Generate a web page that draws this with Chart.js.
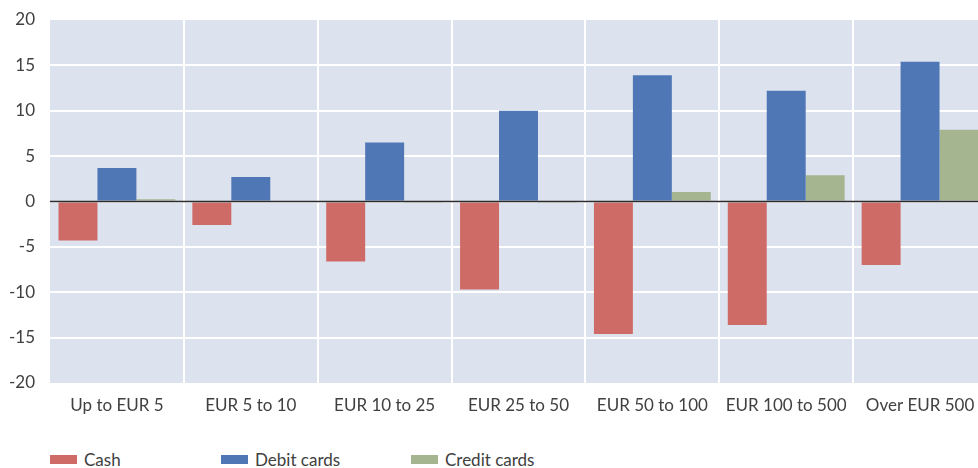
<!DOCTYPE html>
<html>
<head>
<meta charset="utf-8">
<script src="https://cdn.jsdelivr.net/npm/chart.js@4"></script>
<style>
  html, body { margin: 0; padding: 0; background: #fff; overflow: hidden; width: 978px; height: 468px; }
  #wrap { position: absolute; left: 0; top: 0; width: 990px; height: 440px; }
  #legend { position: absolute; left: 50px; top: 449px; display: flex; font-family: Lato, "Open Sans", sans-serif; font-size: 17px; color: #404040; }
  .item { display: flex; align-items: center; }
  .box { width: 27px; height: 9px; margin-right: 7px; }
</style>
</head>
<body>
<div id="wrap"><canvas id="c" width="990" height="440"></canvas></div>
<div id="legend"></div>
<script>
const categories = ["Up to EUR 5", "EUR 5 to 10", "EUR 10 to 25", "EUR 25 to 50", "EUR 50 to 100", "EUR 100 to 500", "Over EUR 500"];
const cash = [-4.3, -2.6, -6.6, -9.7, -14.6, -13.6, -7.0];
const debitCards = [3.7, 2.7, 6.5, 10.0, 13.9, 12.2, 15.4];
const creditCards = [0.25, 0.0, -0.15, -0.15, 1.05, 2.9, 7.9];
const yTicks = [20, 15, 10, 5, 0, -5, -10, -15, -20];
const seriesNames = ["Cash", "Debit cards", "Credit cards"];
const colors = ["#cf6b66", "#5077b5", "#a5b590"];
const legendWidths = [171, 190, 200];

const plotBg = {
  id: 'plotBg',
  beforeDraw(chart) {
    const a = chart.chartArea, ctx = chart.ctx;
    ctx.save();
    ctx.fillStyle = '#dde2ef';
    ctx.fillRect(a.left, a.top, a.right - a.left, a.bottom - a.top);
    ctx.restore();
  }
};
const zeroLine = {
  id: 'zeroLine',
  afterDatasetsDraw(chart) {
    const a = chart.chartArea, ctx = chart.ctx;
    const y = chart.scales.y.getPixelForValue(0);
    ctx.save();
    ctx.strokeStyle = '#2b2b2b';
    ctx.lineWidth = 1.5;
    ctx.beginPath();
    ctx.moveTo(a.left, y);
    ctx.lineTo(a.right, y);
    ctx.stroke();
    ctx.restore();
  }
};

const font = { family: 'Lato, "Open Sans", sans-serif', size: 17 };
new Chart(document.getElementById('c'), {
  type: 'bar',
  data: {
    labels: categories,
    datasets: [cash, debitCards, creditCards].map((d, i) => ({
      label: seriesNames[i], data: d, backgroundColor: colors[i],
      borderWidth: 0, barPercentage: 1.0, categoryPercentage: 0.873
    }))
  },
  options: {
    responsive: false,
    animation: false,
    layout: { padding: { top: 20, right: 3, left: 0, bottom: 0 } },
    plugins: { legend: { display: false }, tooltip: { enabled: false } },
    scales: {
      x: {
        offset: true,
        border: { display: false },
        grid: {
          drawTicks: false,
          offset: true,
          lineWidth: 2,
          color: (ctx) => ctx.index === 0 ? 'rgba(0,0,0,0)' : '#ffffff'
        },
        ticks: { font, color: '#404040', padding: 12, maxRotation: 0, autoSkip: false },
        afterFit(axis) { axis.height = 57; }
      },
      y: {
        min: -20, max: 20,
        border: { display: false },
        afterBuildTicks(axis) { axis.ticks = yTicks.map(v => ({ value: v })); },
        grid: {
          drawTicks: false,
          lineWidth: 2,
          color: (ctx) => (ctx.tick && Math.abs(ctx.tick.value) === 20) ? 'rgba(0,0,0,0)' : '#ffffff'
        },
        ticks: { font, color: '#404040', padding: 15 },
        afterFit(axis) { axis.width = 50; axis.paddingTop = 0; axis.paddingBottom = 0; }
      }
    }
  },
  plugins: [plotBg, zeroLine]
});

const lg = document.getElementById('legend');
seriesNames.forEach((n, i) => {
  const it = document.createElement('div');
  it.className = 'item';
  it.style.width = legendWidths[i] + 'px';
  const b = document.createElement('span');
  b.className = 'box';
  b.style.background = colors[i];
  const t = document.createElement('span');
  t.textContent = n;
  it.appendChild(b); it.appendChild(t);
  lg.appendChild(it);
});
</script>
</body>
</html>
